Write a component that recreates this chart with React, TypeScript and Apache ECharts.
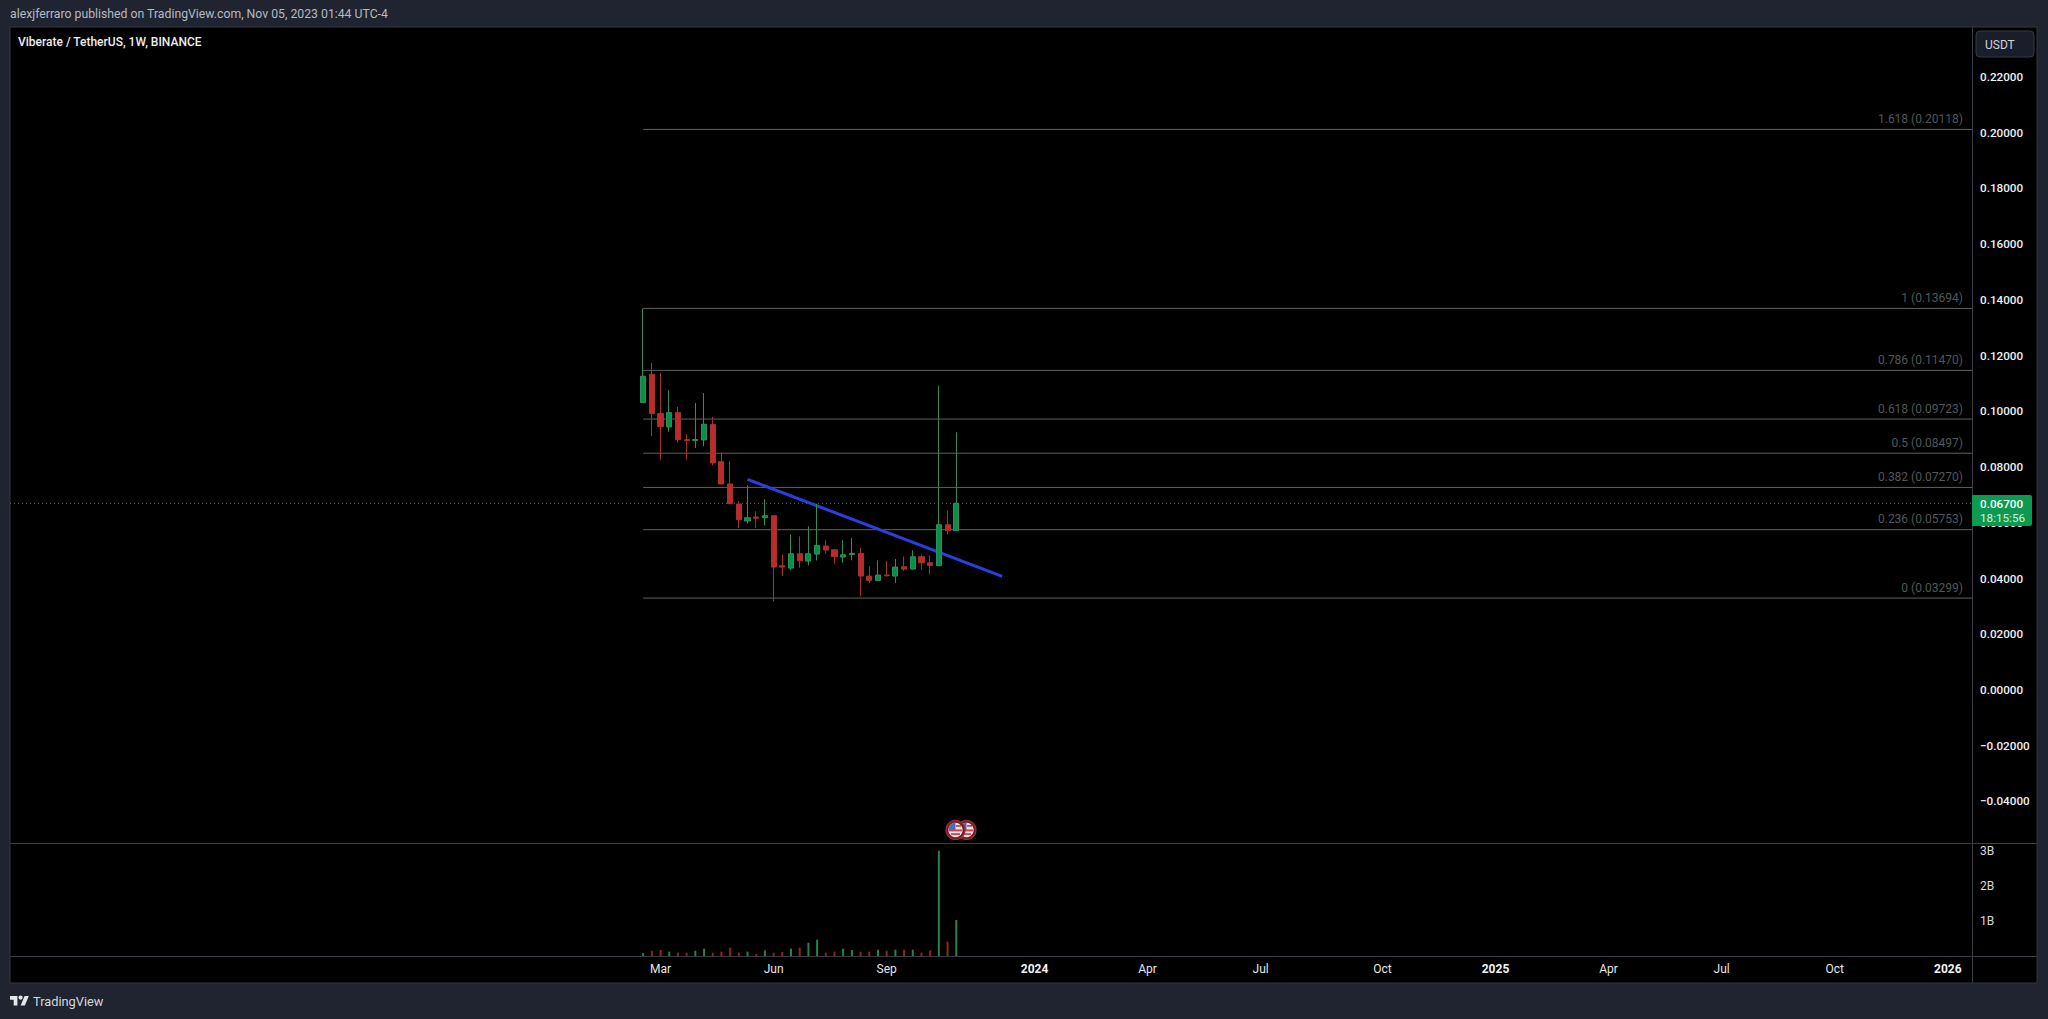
import React, { useEffect, useRef } from "react";
import * as echarts from "echarts";

const weeks = [
  "2023-02-20","2023-02-27","2023-03-06","2023-03-13","2023-03-20","2023-03-27","2023-04-03","2023-04-10",
  "2023-04-17","2023-04-24","2023-05-01","2023-05-08","2023-05-15","2023-05-22","2023-05-29","2023-06-05",
  "2023-06-12","2023-06-19","2023-06-26","2023-07-03","2023-07-10","2023-07-17","2023-07-24","2023-07-31",
  "2023-08-07","2023-08-14","2023-08-21","2023-08-28","2023-09-04","2023-09-11","2023-09-18","2023-09-25",
  "2023-10-02","2023-10-09","2023-10-16","2023-10-23","2023-10-30",
];
const opens = [
  0.10314,0.11332,0.09919,0.0944,0.09955,0.08985,0.0895,0.08973,0.09524,0.08195,0.07393,0.06674,0.06064,
  0.0621,0.06183,0.06255,0.0446,0.04375,0.0489,0.04627,0.04878,0.05166,0.0503,0.04771,0.0486,0.04903,
  0.04088,0.03933,0.04124,0.04088,0.04424,0.0434,0.04783,0.04567,0.0446,0.05932,0.05717,
];
const closes = [
  0.1126,0.09919,0.09452,0.09955,0.08985,0.0895,0.0899,0.09536,0.08147,0.07393,0.06686,0.06112,0.06183,
  0.0616,0.06255,0.04411,0.0441,0.0489,0.04639,0.0489,0.0519,0.05022,0.04783,0.04855,0.04903,0.04088,
  0.03933,0.04124,0.041,0.04412,0.0434,0.04783,0.04567,0.04472,0.05932,0.05717,0.067,
];
const lows = [
  0.1031,0.09105,0.08267,0.09261,0.08877,0.08267,0.08686,0.08746,0.08063,0.07393,0.0668,0.05812,0.05968,
  0.05812,0.05908,0.03178,0.04088,0.04292,0.04388,0.04471,0.04651,0.04891,0.04532,0.04567,0.04651,0.03358,
  0.03837,0.0392,0.04076,0.03837,0.04268,0.0432,0.04316,0.04148,0.0445,0.05585,0.0571,
];
const highs = [
  0.13694,0.11739,0.1138,0.10757,0.10159,0.09177,0.10302,0.10661,0.09799,0.0853,0.08219,0.0677,0.07345,
  0.06411,0.06842,0.0626,0.04866,0.05585,0.05513,0.05872,0.06686,0.0537,0.0505,0.0537,0.05453,0.05094,
  0.04448,0.04651,0.04627,0.04699,0.04795,0.0501,0.0486,0.04831,0.10913,0.06447,0.09249,
];
const volumes = [
  0.086,0.152,0.171,0.124,0.095,0.095,0.152,0.21,0.095,0.124,0.238,0.095,0.124,0.057,0.162,0.095,0.114,
  0.21,0.238,0.381,0.467,0.095,0.124,0.21,0.171,0.124,0.124,0.181,0.152,0.181,0.181,0.181,0.095,0.162,
  3.01,0.41,1.03,
];

const fibRatios = ["1.618", "1", "0.786", "0.618", "0.5", "0.382", "0.236", "0"];
const fibPrices = [0.20118, 0.13694, 0.1147, 0.09723, 0.08497, 0.0727, 0.05753, 0.03299];

const trendDates = ["2023-05-15", "2023-12-06"];
const trendPrices = [0.0756, 0.04076];

const lastPrice = 0.067;
const priceTicks = [-0.04,-0.02,0,0.02,0.04,0.06,0.08,0.1,0.12,0.14,0.16,0.18,0.2,0.22];
const volumeTicks = [1, 2, 3];
const timeTickDates = [
  "2023-03-06","2023-06-05","2023-09-04","2024-01-01","2024-04-01","2024-07-01",
  "2024-10-07","2025-01-06","2025-04-07","2025-07-07","2025-10-06","2026-01-05",
];
const timeTickLabels = ["Mar","Jun","Sep","2024","Apr","Jul","Oct","2025","Apr","Jul","Oct","2026"];

const UP = "#0a8f4b";
const DOWN = "#bd2a2a";
const UP_EDGE = "#2f8f5c";
const DOWN_EDGE = "#a83030";
const VOL_UP = "#23824d";
const VOL_DOWN = "#8c2626";
const FRAME = "#1f2430";
const SEP = "#3b3d44";
const FIB = "#5e6260";
const FONT = "Roboto, 'Open Sans', sans-serif";

const xMin = Date.UTC(2021, 8, 28, 10);
const xMax = Date.UTC(2026, 0, 24, 12);

echarts.graphic.registerShape(
  "tvlogo",
  echarts.graphic.extendPath(
    "M14 22H7V11H0V4h14v18zM28 22h-8l7.5-18h8L28 22zM20 11a4 4 0 1 0 0-8 4 4 0 0 0 0 8z",
    {}
  )
);

function flag(cx: number, cy: number, z: number) {
  return [
    { type: "circle", z, shape: { cx, cy, r: 9.5 }, style: { fill: "#6e2029", stroke: "#a52a35", lineWidth: 1.2 } },
    { type: "circle", z: z + 1, shape: { cx, cy, r: 7.2 }, style: { fill: "#e6e6ea" } },
    { type: "rect", z: z + 2, shape: { x: cx - 6.8, y: cy - 0.6, width: 13.6, height: 2 }, style: { fill: "#d8414c" } },
    { type: "rect", z: z + 2, shape: { x: cx - 4.5, y: cy + 3.2, width: 9, height: 1.8 }, style: { fill: "#d8414c" } },
    { type: "rect", z: z + 2, shape: { x: cx + 0.5, y: cy - 5, width: 5, height: 1.8 }, style: { fill: "#d8414c" } },
    { type: "sector", z: z + 2, shape: { cx, cy, r: 7.2, r0: 0, startAngle: Math.PI, endAngle: Math.PI * 1.5 }, style: { fill: "#3f6fc4" } },
  ];
}

export default function App() {
  const ref = useRef<HTMLDivElement>(null);

  useEffect(() => {
    document.body.style.margin = "0";
    document.body.style.background = FRAME;
    const chart = echarts.init(ref.current!, undefined, { renderer: "svg" });
    const ts = weeks.map((d) => Date.parse(d));

    const fibSeries = fibPrices.map((p, i) => ({
      type: "line",
      xAxisIndex: 0,
      yAxisIndex: 0,
      z: 1,
      silent: true,
      symbol: "circle",
      symbolSize: 0,
      showSymbol: true,
      lineStyle: { color: FIB, width: 1 },
      itemStyle: { color: "transparent" },
      data: [
        [ts[0], p],
        {
          value: [xMax, p],
          label: {
            show: true,
            position: "left",
            distance: 9,
            offset: [0, -10.5],
            color: "#53565a",
            fontFamily: FONT,
            fontSize: 12,
            formatter: `${fibRatios[i]} (${p.toFixed(5)})`,
          },
        },
      ],
    }));

    chart.setOption({
      animation: false,
      backgroundColor: FRAME,
      grid: [
        { left: 10, width: 1962, top: 27, height: 816 },
        { left: 10, width: 1962, top: 843, height: 113 },
      ],
      xAxis: [
        {
          type: "value", gridIndex: 0, min: xMin, max: xMax,
          axisLine: { show: false }, axisTick: { show: false }, axisLabel: { show: false }, splitLine: { show: false },
        },
        {
          type: "value", gridIndex: 1, min: xMin, max: xMax,
          axisLine: { show: false }, axisTick: { show: false }, splitLine: { show: false },
          axisLabel: {
            customValues: timeTickDates.map((d) => Date.parse(d)),
            color: "#e6e7ea",
            fontFamily: FONT,
            fontSize: 12,
            margin: 7,
            hideOverlap: false,
            formatter: (v: number) => {
              const i = timeTickDates.findIndex((d) => Date.parse(d) === v);
              const t = timeTickLabels[i];
              return /^\d+$/.test(t) ? `{b|${t}}` : t;
            },
            rich: { b: { fontWeight: 700, fontSize: 12, color: "#f2f2f4", fontFamily: FONT } },
          },
        },
      ],
      yAxis: [
        {
          type: "value", gridIndex: 0, position: "right", min: -0.05491, max: 0.23793,
          axisLine: { show: false }, axisTick: { show: false }, splitLine: { show: false },
          axisLabel: {
            customValues: priceTicks,
            color: "#f0f0f2",
            fontFamily: FONT,
            fontSize: 11.7,
            fontWeight: 500,
            margin: 8,
            formatter: (v: number) => (v < 0 ? "\u2212" : "") + Math.abs(v).toFixed(5),
          },
        },
        {
          type: "value", gridIndex: 1, position: "right", min: 0, max: 3.23,
          axisLine: { show: false }, axisTick: { show: false }, splitLine: { show: false },
          axisLabel: {
            customValues: volumeTicks,
            color: "#d8d9dc",
            fontFamily: FONT,
            fontSize: 12,
            margin: 8,
            formatter: (v: number) => `${v}B`,
          },
        },
      ],
      series: [
        ...fibSeries,
        {
          type: "line",
          xAxisIndex: 0,
          yAxisIndex: 0,
          z: 1,
          silent: true,
          symbol: "none",
          lineStyle: { color: "#5d7566", width: 1, type: [1, 3] },
          data: [[xMin, lastPrice], [xMax, lastPrice]],
        },
        {
          type: "line",
          xAxisIndex: 0,
          yAxisIndex: 0,
          z: 2,
          silent: true,
          symbol: "none",
          lineStyle: { color: "#2a3fe0", width: 3 },
          data: trendDates.map((d, i) => [Date.parse(d), trendPrices[i]]),
        },
        {
          type: "candlestick",
          xAxisIndex: 0,
          yAxisIndex: 0,
          z: 3,
          barWidth: 5.6,
          itemStyle: { color: UP, color0: DOWN, borderColor: UP_EDGE, borderColor0: DOWN_EDGE, borderWidth: 1 },
          data: ts.map((t, i) => [t, opens[i], closes[i], lows[i], highs[i]]),
        },
        {
          type: "bar",
          xAxisIndex: 1,
          yAxisIndex: 1,
          barWidth: 2,
          data: ts.map((t, i) => ({
            value: [t, volumes[i]],
            itemStyle: { color: closes[i] >= opens[i] ? VOL_UP : VOL_DOWN },
          })),
        },
      ],
      graphic: {
        elements: [
          { type: "rect", z: -5, shape: { x: 10, y: 27, width: 2027, height: 956 }, style: { fill: "#000", stroke: "#33363f", lineWidth: 1 } },
          { type: "line", z: -4, shape: { x1: 1972.5, y1: 27, x2: 1972.5, y2: 983 }, style: { stroke: SEP, lineWidth: 1 } },
          { type: "line", z: -4, shape: { x1: 10, y1: 843.5, x2: 2037, y2: 843.5 }, style: { stroke: SEP, lineWidth: 1 } },
          { type: "line", z: -4, shape: { x1: 10, y1: 956.5, x2: 2037, y2: 956.5 }, style: { stroke: SEP, lineWidth: 1 } },

          { type: "text", z: 50, x: 10, y: 14, style: { text: "alexjferraro published on TradingView.com, Nov 05, 2023 01:44 UTC-4", fill: "#b6b9c2", font: `12.25px ${FONT}`, textVerticalAlign: "middle" } },
          { type: "text", z: 50, x: 18, y: 42, style: { text: "Viberate / TetherUS, 1W, BINANCE", fill: "#eceef2", font: `500 12px ${FONT}`, textVerticalAlign: "middle" } },

          { type: "rect", z: 50, shape: { x: 1976, y: 31, width: 58, height: 26, r: 4 }, style: { fill: "#1a1e2a", stroke: "#363a45", lineWidth: 1 } },
          { type: "text", z: 51, x: 1985, y: 44.5, style: { text: "USDT", fill: "#d1d4dc", font: `12px ${FONT}`, textVerticalAlign: "middle" } },

          { type: "rect", z: 60, shape: { x: 1972, y: 495, width: 60, height: 31, r: [0, 2, 2, 0] }, style: { fill: "#0b9a50" } },
          { type: "text", z: 61, x: 1980, y: 503.5, style: { text: "0.06700", fill: "#ffffff", font: `500 11.7px ${FONT}`, textVerticalAlign: "middle" } },
          { type: "text", z: 61, x: 1980, y: 518, style: { text: "18:15:56", fill: "#d7efe1", font: `11.7px ${FONT}`, textVerticalAlign: "middle" } },

          ...flag(966.5, 830, 40),
          ...flag(955.5, 830, 44),

          { type: "tvlogo", z: 50, x: 10, y: 993.9, scaleX: 0.53, scaleY: 0.53, style: { fill: "#e4e6ea" } },
          { type: "text", z: 50, x: 33, y: 1001.5, style: { text: "TradingView", fill: "#d6d8de", font: `12.8px ${FONT}`, textVerticalAlign: "middle" } },
        ],
      },
    });
    return () => chart.dispose();
  }, []);

  return <div ref={ref} style={{ width: 2048, height: 1019, overflow: "hidden" }} />;
}
